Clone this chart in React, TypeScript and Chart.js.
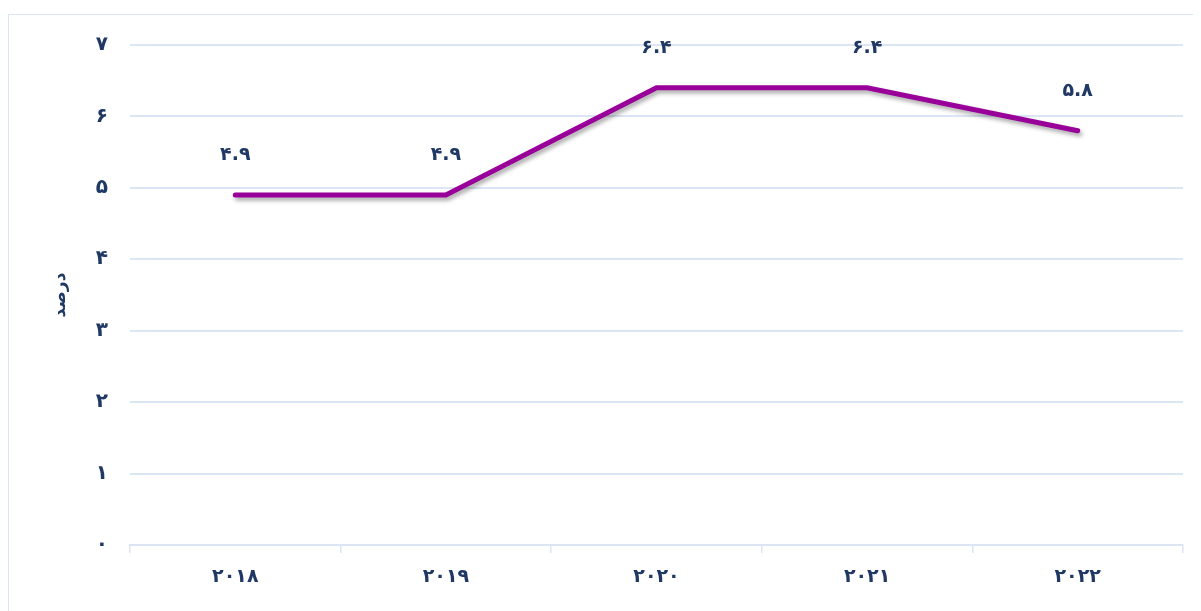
import React, { useEffect, useRef } from "react";
import { Chart, registerables } from "chart.js";

Chart.register(...registerables);

const categories = ["2018", "2019", "2020", "2021", "2022"];
const values = [4.9, 4.9, 6.4, 6.4, 5.8];
const yTickValues = [0, 1, 2, 3, 4, 5, 6, 7];
const yTitle = "درصد";

const TEXT = "#1f3864";
const GRID = "#dbe5f3";
const LINE = "#990099";
const FONT = "'DejaVu Sans', sans-serif";

const faDigits = "۰۱۲۳۴۵۶۷۸۹";
function toFa(s: string): string {
  return s.replace(/[0-9]/g, (d) => faDigits[Number(d)]);
}

const shadowPlugin = {
  id: "lineShadow",
  beforeDatasetsDraw(chart: any) {
    const ctx = chart.ctx;
    ctx.save();
    ctx.shadowColor = "rgba(0,0,0,0.35)";
    ctx.shadowBlur = 4;
    ctx.shadowOffsetX = 2;
    ctx.shadowOffsetY = 3;
  },
  afterDatasetsDraw(chart: any) {
    chart.ctx.restore();
  },
};

const labelPlugin = {
  id: "valueLabels",
  afterDatasetsDraw(chart: any) {
    const ctx = chart.ctx;
    const meta = chart.getDatasetMeta(0);
    ctx.save();
    ctx.font = `bold 19px ${FONT}`;
    ctx.fillStyle = TEXT;
    ctx.textAlign = "center";
    ctx.textBaseline = "middle";
    meta.data.forEach((pt: any, i: number) => {
      ctx.fillText(toFa(values[i].toFixed(1)), pt.x, pt.y - 40);
    });
    ctx.restore();
  },
};

export default function App() {
  const ref = useRef<HTMLCanvasElement | null>(null);
  useEffect(() => {
    if (!ref.current) return;
    const chart = new Chart(ref.current, {
      type: "line",
      data: {
        labels: categories,
        datasets: [
          {
            data: values,
            borderColor: LINE,
            borderWidth: 5,
            borderCapStyle: "round",
            borderJoinStyle: "miter",
            pointRadius: 0,
            pointHoverRadius: 0,
            tension: 0,
            fill: false,
          },
        ],
      },
      options: {
        animation: false,
        responsive: false,
        maintainAspectRatio: false,
        layout: { padding: { top: 30, right: 18, bottom: 0, left: 0 } },
        plugins: {
          legend: { display: false },
          tooltip: { enabled: false },
        },
        scales: {
          x: {
            type: "category",
            offset: true,
            grid: {
              offset: true,
              drawOnChartArea: false,
              drawTicks: true,
              tickLength: 8,
              color: GRID,
              lineWidth: 1.5,
            },
            border: { display: true, color: GRID, width: 2 },
            ticks: {
              color: TEXT,
              font: { family: FONT, size: 19, weight: "bold" },
              padding: 13,
              maxRotation: 0,
              callback: (_v: any, i: number) => toFa(categories[i]),
            },
            afterFit: (s: any) => {
              s.height = 66;
              s.paddingLeft = 0;
              s.paddingRight = 0;
            },
          },
          y: {
            min: 0,
            max: 7,
            afterBuildTicks: (s: any) => {
              s.ticks = yTickValues.map((v) => ({ value: v }));
            },
            grid: { color: GRID, lineWidth: 2, drawTicks: false },
            border: { display: false },
            ticks: {
              color: TEXT,
              font: { family: FONT, size: 20, weight: "bold" },
              padding: 22,
              callback: (v: any) => toFa(String(v)),
            },
            title: {
              display: true,
              text: yTitle,
              color: TEXT,
              font: { family: FONT, size: 17, weight: "bold" },
              padding: { top: 41, bottom: 0 },
            },
            afterFit: (s: any) => {
              s.width = 121;
              s.paddingTop = 0;
              s.paddingBottom = 0;
            },
          },
        },
      },
      plugins: [shadowPlugin, labelPlugin],
    });
    return () => chart.destroy();
  }, []);
  return (
    <div
      style={{
        marginTop: 6,
        width: 1200,
        height: 600,
        border: `1px solid ${GRID}`,
        boxSizing: "border-box",
        background: "#fff",
      }}
    >
      <canvas ref={ref} width={1192} height={596} style={{ display: "block" }} />
    </div>
  );
}
